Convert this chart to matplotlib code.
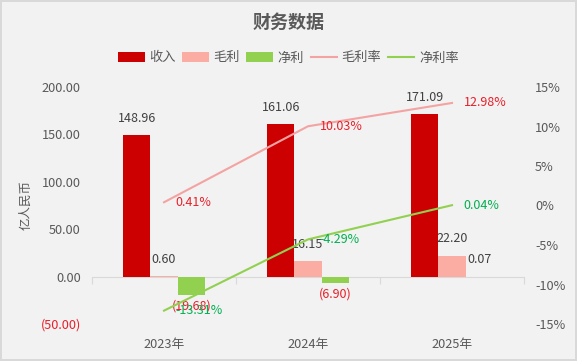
import matplotlib
matplotlib.use("Agg")
import matplotlib.pyplot as plt
import numpy as np
from matplotlib.ticker import FuncFormatter

plt.rcParams['font.family'] = ['Noto Sans CJK SC', 'DejaVu Sans']

categories = ['2023年', '2024年', '2025年']
revenue = [148.96, 161.06, 171.09]
gross_profit = [0.60, 16.15, 22.20]
net_profit = [-19.68, -6.90, 0.07]
gross_margin = [0.41, 10.03, 12.98]
net_margin = [-13.31, -4.29, 0.04]

C_REV = '#cc0000'
C_GP = '#fbaca3'
C_NP = '#92d050'
C_GM = '#f4a3a3'
C_NM = '#92d050'
TXT = '#404040'
TICK = '#595959'
RED = '#e8202a'
GREEN = '#00b050'

fig = plt.figure(figsize=(5.77, 3.61), dpi=100)
fig.patch.set_facecolor('#f2f2f2')
fig.patch.set_edgecolor('#d9d9d9')
fig.patch.set_linewidth(1.5)

ax = fig.add_axes([92/577, 1-324/361, (524-92)/577, (324-87)/361])
ax.set_facecolor('none')
x = np.arange(len(categories))
w = 0.19

ax.bar(x - w, revenue, w, color=C_REV, label='收入', zorder=2)
ax.bar(x, gross_profit, w, color=C_GP, label='毛利', zorder=2)
ax.bar(x + w, net_profit, w, color=C_NP, label='净利', zorder=2)

ax.set_xlim(-0.5, len(categories) - 0.5)
ax.set_ylim(-50, 200)
ax.set_yticks(np.arange(-50, 201, 50))
ax.yaxis.set_major_formatter(FuncFormatter(lambda v, p: f'({abs(v):.2f})' if v < 0 else f'{v:.2f}'))
ax.tick_params(axis='y', length=0, pad=8, labelsize=9.2, labelcolor=TICK)
for lab, v in zip(ax.get_yticklabels(), np.arange(-50, 201, 50)):
    if v < 0:
        lab.set_color(RED)
ax.set_xticks(x)
ax.set_xticklabels(categories)
ax.tick_params(axis='x', length=0, pad=10, labelsize=9.2, labelcolor=TICK)
for s in ax.spines.values():
    s.set_visible(False)
ax.set_ylabel('亿人民币', fontsize=9, color=TICK)
ax.yaxis.set_label_coords(-0.138, 0.5)

# zero axis line with category boundary ticks
sec = ax.secondary_xaxis(50/250)
sec.set_xticks(np.arange(-0.5, len(categories), 1.0))
sec.set_xticklabels([''] * (len(categories) + 1))
sec.tick_params(axis='x', direction='out', length=5, color='#d9d9d9', width=0.8)
sec.spines['bottom'].set_color('#d9d9d9')
sec.spines['bottom'].set_linewidth(0.8)

def fmt(v):
    return f'({abs(v):.2f})' if v < 0 else f'{v:.2f}'

for xi, v in zip(x - w, revenue):
    ax.annotate(fmt(v), (xi, v), xytext=(0, 12), textcoords='offset points',
                ha='center', va='center', fontsize=9, color=TXT, zorder=5)
for xi, v in zip(x, gross_profit):
    ax.annotate(fmt(v), (xi, v), xytext=(0, 12), textcoords='offset points',
                ha='center', va='center', fontsize=9, color=TXT, zorder=5)
for xi, v in zip(x + w, net_profit):
    off = 12 if v >= 0 else -8
    ax.annotate(fmt(v), (xi, v), xytext=(0, off), textcoords='offset points',
                ha='center', va='center', fontsize=9,
                color=TXT if v >= 0 else RED, zorder=5)

ax2 = ax.twinx()
ax2.set_ylim(-15, 15)
ax2.set_yticks(np.arange(-15, 16, 5))
ax2.yaxis.set_major_formatter(FuncFormatter(lambda v, p: f'{v:.0f}%'))
ax2.tick_params(axis='y', length=0, pad=8, labelsize=9.2, labelcolor=TICK)
for s in ax2.spines.values():
    s.set_visible(False)

ax2.plot(x, gross_margin, color=C_GM, lw=1.5, label='毛利率', zorder=3)
ax2.plot(x, net_margin, color=C_NM, lw=1.5, label='净利率', zorder=3)

for xi, v in zip(x, gross_margin):
    ax2.annotate(f'{v:.2f}%', (xi, v), xytext=(8.5, 0), textcoords='offset points',
                 ha='left', va='center', fontsize=9, color=RED, zorder=5)
for xi, v in zip(x, net_margin):
    ax2.annotate(f'{v:.2f}%', (xi, v), xytext=(8.5, 0), textcoords='offset points',
                 ha='left', va='center', fontsize=9, color=GREEN, zorder=5)

fig.text(0.5, 1 - 22/361, '财务数据', ha='center', va='center', fontsize=13,
         fontweight='bold', color=TICK)

h1, l1 = ax.get_legend_handles_labels()
h2, l2 = ax2.get_legend_handles_labels()
fig.legend(h1 + h2, l1 + l2, loc='center', bbox_to_anchor=(0.5, 1 - 58/361),
           ncol=5, frameon=False, fontsize=9.5, handlelength=2.0, handleheight=0.8,
           handletextpad=0.35, columnspacing=0.5, labelcolor=TICK)

fig.savefig('out.png', dpi=100, facecolor=fig.get_facecolor(), edgecolor=fig.get_edgecolor())
